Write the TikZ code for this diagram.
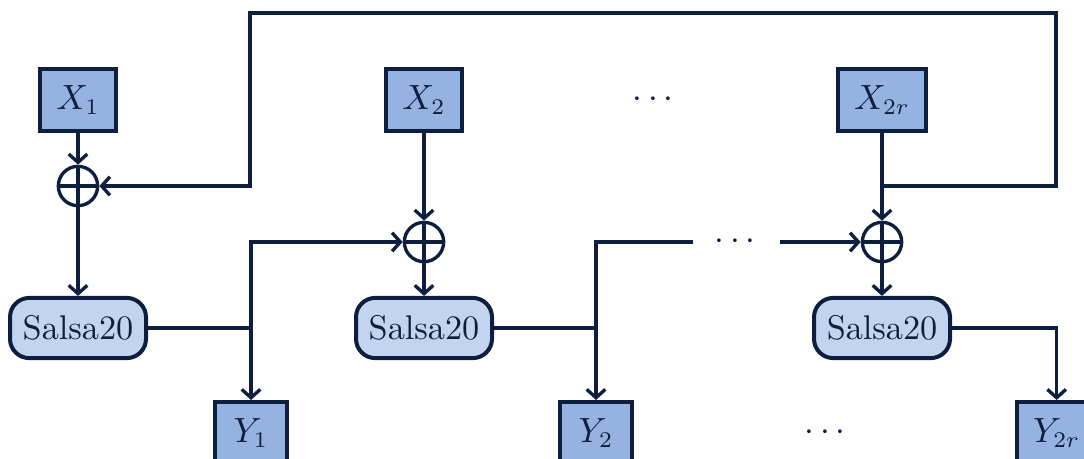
\documentclass[tikz,border=0pt]{standalone}
\usetikzlibrary{calc,arrows.meta}
\definecolor{ink}{HTML}{0E1E3E}
\definecolor{xfill}{HTML}{95B2E0}
\definecolor{sfill}{HTML}{C2D4F0}
\begin{document}
\begin{tikzpicture}[x=0.3125pt,y=-0.3125pt,
  font=\fontsize{10.7}{13}\selectfont,
  >={Straight Barb[length=2.6pt,width=5.8pt,line width=1.05pt]},
  line/.style={draw=ink,line width=1.05pt},
  arr/.style={line,->},
  ibox/.style={draw=ink,fill=xfill,line width=1.25pt,minimum width=22.8pt,minimum height=19.4pt,inner sep=5pt,text=ink},
  sbox/.style={draw=ink,fill=sfill,line width=1.25pt,rounded corners=6pt,minimum width=42.5pt,minimum height=18.8pt,inner sep=3pt,text=ink},
  xorn/.style={circle,draw=ink,line width=1.05pt,minimum size=12.3pt,inner sep=0pt,
    path picture={\draw[ink,line width=1.05pt] (path picture bounding box.north) -- (path picture bounding box.south) (path picture bounding box.west) -- (path picture bounding box.east);}},
  dotn/.style={text=ink,inner sep=0pt}
]
\useasboundingbox (0,0) rectangle (1084,458);
% inputs
\node[ibox] (x1) at (78,100) {$X_1$};
\node[ibox] (x2) at (424,100) {$X_2$};
\node[ibox] (x3) at (882,100) {$X_{2r}$};
\node[dotn] (d1) at (653,100) {$\cdots$};
% xors
\node[xorn] (o1) at (78,186) {};
\node[xorn] (o2) at (424,242) {};
\node[xorn] (o3) at (882,242) {};
% salsa
\node[sbox] (s1) at (78,328) {Salsa20};
\node[sbox] (s2) at (424,328) {Salsa20};
\node[sbox] (s3) at (882,328) {Salsa20};
% outputs
\node[ibox] (y1) at (251,433) {$Y_1$};
\node[ibox] (y2) at (596,433) {$Y_2$};
\node[ibox,anchor=west] (y3) at (1015,433) {$Y_{2r}$};
\node[dotn] (d3) at (825,433) {$\cdots$};
\node[dotn] (d2) at (735,242) {$\cdots$};
% vertical flow
\draw[arr] (x1) -- (o1);
\draw[arr] (o1) -- (s1);
\draw[arr] (x2) -- (o2);
\draw[arr] (o2) -- (s2);
\draw[arr] (x3) -- (o3);
\draw[arr] (o3) -- (s3);
% feedback
\coordinate (f) at (882,186);
\coordinate (c1) at (1056,13);
\coordinate (c2) at (250,13);
\draw[arr] (f) -| (c1) -- (c2) |- (o1);
% salsa outputs
\coordinate (j1) at (y1 |- s1);
\coordinate (j2) at (y2 |- s2);
\coordinate (g1) at (693,242);
\coordinate (g2) at (780,242);
\draw[arr] (s1.east) -| (y1.north);
\draw[arr] (j1) |- (o2);
\draw[arr] (s2.east) -| (y2.north);
\draw[line] (j2) |- (g1);
\draw[arr] (g2) -- (o3);
\draw[arr] (s3.east) -| (y3.north);
\end{tikzpicture}
\end{document}
